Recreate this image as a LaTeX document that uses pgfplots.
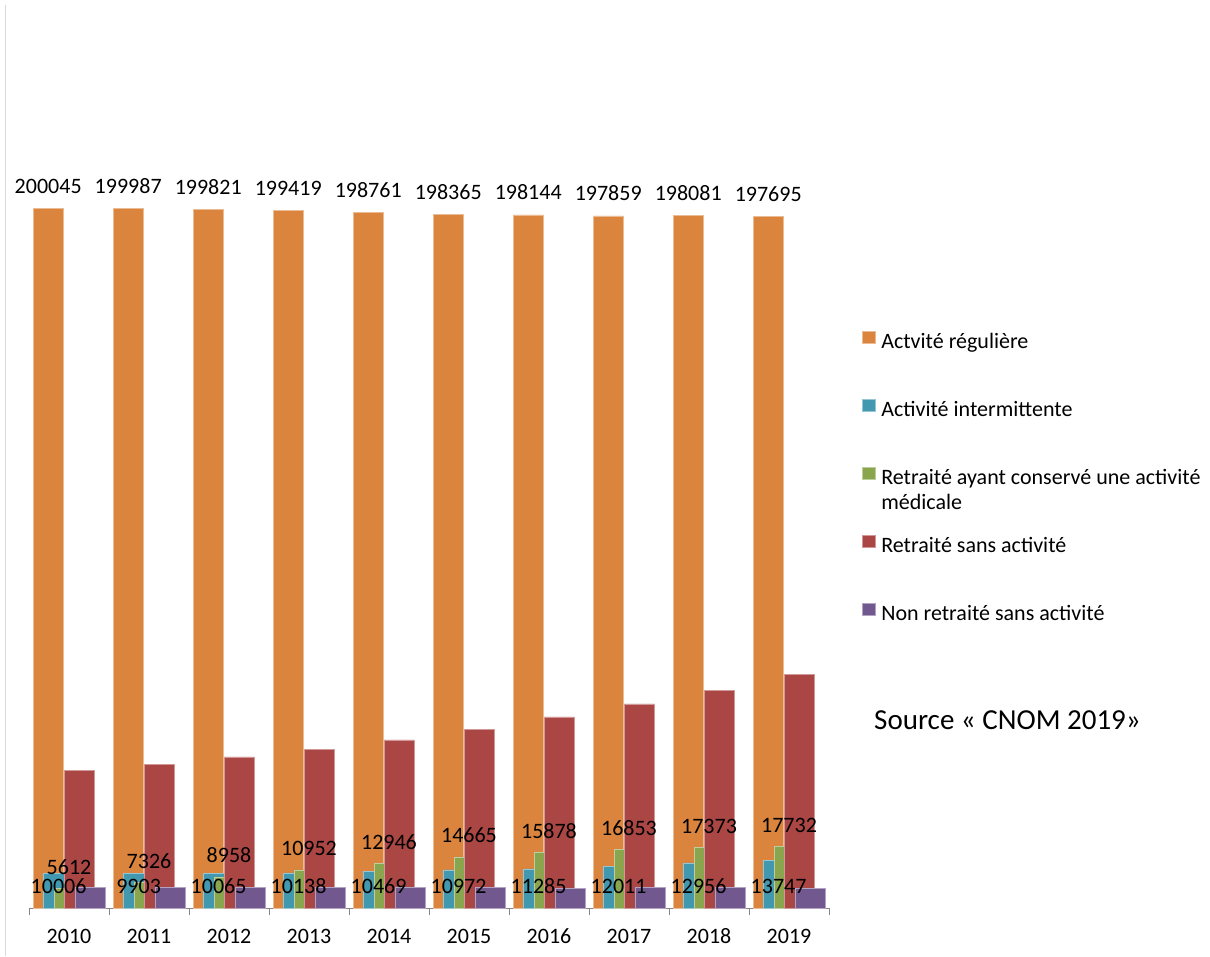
\documentclass[border=0pt]{standalone}
\usepackage{fontspec}
\setmainfont{Carlito}
\usepackage{pgfplots}
\usepackage{pgfplotstable}
\pgfplotsset{compat=1.18}
\definecolor{cOr}{RGB}{219,132,61}
\definecolor{cBl}{RGB}{65,152,175}
\definecolor{cGr}{RGB}{137,165,78}
\definecolor{cRd}{RGB}{170,70,67}
\definecolor{cPu}{RGB}{113,88,143}
\definecolor{axgray}{RGB}{134,134,134}
\definecolor{bordergray}{RGB}{217,217,217}

\pgfplotstableread{
x ora blu gre red pur bpos
0 200045 10006 5612 39330 6000 4287
1 199987 9903 7326 41160 6000 4287
2 199821 10065 8958 43240 6000 4287
3 199419 10138 10952 45440 6000 4287
4 198761 10469 12946 48100 6000 4287
5 198365 10972 14665 51160 6000 4287
6 198144 11285 15878 54680 5800 4287
7 197859 12011 16853 58390 6000 4287
8 198081 12956 17373 62300 6000 4287
9 197695 13747 17732 66770 5800 4287
}\data

\begin{document}
\begin{tikzpicture}[x=1pt,y=1pt]
\path[use as bounding box] (0,0) rectangle (1210,956);
\draw[bordergray, line width=1pt] (5.5,0) -- (5.5,951);
\begin{axis}[
  at={(29pt,47.7pt)}, anchor=south west,
  scale only axis, width=800pt, height=700pt,
  xmin=-0.5, xmax=9.5, ymin=0, ymax=200045,
  clip=false,
  axis x line*=bottom, hide y axis,
  axis line style={-, draw=axgray, line width=0.9pt},
  xtick={0,1,2,3,4,5,6,7,8,9},
  xticklabels={2010,2011,2012,2013,2014,2015,2016,2017,2018,2019},
  tick align=outside,
  major tick length=0pt,
  minor xtick={-0.5,0.5,1.5,2.5,3.5,4.5,5.5,6.5,7.5,8.5,9.5},
  minor tick length=7pt,
  minor tick style={draw=axgray, line width=0.9pt},
  xticklabel style={font=\fontsize{22}{26}\selectfont, text=black, anchor=base, inner sep=0pt, yshift=-34.7pt},
  ybar, bar width=30pt,
  legend image code/.code={\fill[#1] (0pt,0pt) rectangle (12.5pt,12.5pt);},
  legend style={draw=none, fill=none, inner sep=0pt, legend cell align=left,
    at={(1.04125,0.8254)}, anchor=north west,
    row sep=44.25pt, column sep=6pt,
    font=\fontsize{22}{25}\selectfont,
    nodes={inner sep=0pt, text height=16pt, text depth=6pt}},
  barstyle/.style={fill=#1, draw=#1!55!white, line width=0.6pt},
  lab/.style={draw=none, fill=none, forget plot, nodes near coords, point meta=explicit symbolic,
    nodes near coords style={font=\fontsize{22}{26}\selectfont, text=black, inner sep=0pt, anchor=base, yshift=#1}},
]
\addplot[barstyle=cOr, bar shift=-20.8pt] table[x=x, y=ora] {\data};
\addlegendentry{Actvité régulière}
\addplot[barstyle=cBl, bar shift=-10.4pt] table[x=x, y=blu] {\data};
\addlegendentry{Activité intermittente}
\addplot[barstyle=cGr, bar shift=0pt] table[x=x, y=gre] {\data};
\addlegendentry{\parbox[t]{340pt}{Retraité ayant conservé une activité\\médicale}}
\addplot[barstyle=cRd, bar shift=10.4pt] table[x=x, y=red] {\data};
\addlegendentry{Retraité sans activité}
\addplot[barstyle=cPu, bar shift=20.8pt] table[x=x, y=pur] {\data};
\addlegendentry{Non retraité sans activité}
% data labels
\addplot[lab=15pt, bar shift=-20.8pt] table[x=x, y=ora, meta=ora] {\data};
\addplot[lab=0pt, bar shift=-10.4pt] table[x=x, y=bpos, meta=blu] {\data};
\addplot[lab=14pt, bar shift=0pt] table[x=x, y=gre, meta=gre] {\data};
\end{axis}
\node[anchor=base west, inner sep=0pt, font=\fontsize{29}{34}\selectfont] at (874,226) {Source « CNOM 2019»};
\end{tikzpicture}
\end{document}
